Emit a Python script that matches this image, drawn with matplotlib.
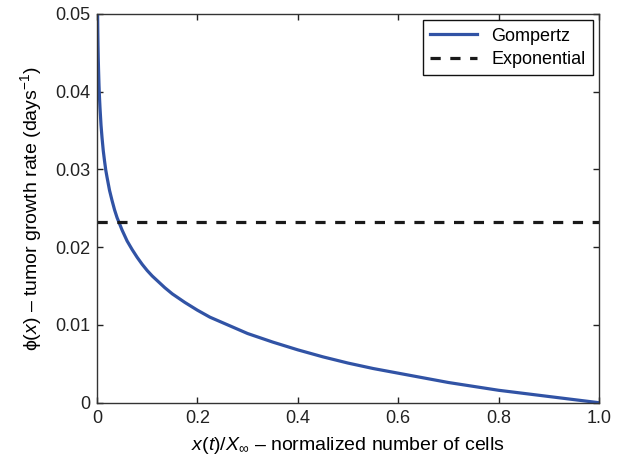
import matplotlib
matplotlib.use("Agg")
import matplotlib.pyplot as plt

# values
x_frac = [0.0012, 0.0016, 0.002, 0.0025, 0.003, 0.004, 0.005, 0.006, 0.008, 0.01,
          0.0125, 0.015, 0.0175, 0.02, 0.025, 0.03, 0.035, 0.04, 0.045, 0.05,
          0.06, 0.07, 0.08, 0.09, 0.1, 0.11, 0.12, 0.135, 0.15, 0.175, 0.2,
          0.225, 0.25, 0.275, 0.3, 0.35, 0.4, 0.45, 0.5, 0.55, 0.6, 0.65, 0.7,
          0.75, 0.8, 0.85, 0.9, 0.95, 1.0]
gompertz = [0.0500, 0.0477, 0.0460, 0.0443, 0.0430, 0.0408, 0.0392, 0.0379, 0.0357,
            0.0341, 0.0324, 0.0311, 0.0299, 0.0290, 0.0273, 0.0260, 0.0248, 0.0238,
            0.0230, 0.0222, 0.0208, 0.0197, 0.0187, 0.0178, 0.0170, 0.0163, 0.0157,
            0.0148, 0.0140, 0.0129, 0.0119, 0.0110, 0.0103, 0.0096, 0.0089, 0.0078,
            0.0068, 0.0059, 0.0051, 0.0044, 0.0038, 0.0032, 0.0026, 0.0021, 0.0016,
            0.0012, 0.0008, 0.0004, 0.0]
exp_rate = 0.0233

plt.rcParams['font.family'] = ['Liberation Sans', 'DejaVu Sans']
plt.rcParams['mathtext.fontset'] = 'custom'
plt.rcParams['mathtext.rm'] = 'Liberation Sans'
plt.rcParams['mathtext.it'] = 'Liberation Sans:italic'

fig = plt.figure(figsize=(6.21, 4.63), dpi=100)
ax = fig.add_axes([0.1562, 0.1302, 0.8084, 0.8396])

ax.plot(x_frac, gompertz, color='#3153a5', lw=2.3, label='Gompertz')
ax.axhline(exp_rate, color='#1a1a1a', lw=2.3, dashes=(3.2, 3.0), label='Exponential')

ax.set_xlim(0, 1.0)
ax.set_ylim(0, 0.05)
ax.set_xticks([0, 0.2, 0.4, 0.6, 0.8, 1.0])
ax.set_xticklabels(['0', '0.2', '0.4', '0.6', '0.8', '1.0'])
ax.set_yticks([0, 0.01, 0.02, 0.03, 0.04, 0.05])
ax.set_yticklabels(['0', '0.01', '0.02', '0.03', '0.04', '0.05'])
ax.tick_params(direction='in', top=True, right=True, length=4, width=1,
               labelsize=13, colors='#222222', pad=5)
for s in ax.spines.values():
    s.set_linewidth(1.0)
    s.set_color('#333333')

ax.set_xlabel(r'$x$($t$)/$X_\infty$ – normalized number of cells', fontsize=14, labelpad=6)
ax.set_ylabel('ϕ($x$) – tumor growth rate (days$^{-1}$)', fontsize=14, labelpad=8)

leg = ax.legend(loc='upper right', fontsize=13, fancybox=False, framealpha=1,
                edgecolor='#111111', handlelength=2.6, borderaxespad=0.35,
                labelspacing=0.35)
leg.get_frame().set_linewidth(1.0)

fig.savefig('out.png', dpi=100)
